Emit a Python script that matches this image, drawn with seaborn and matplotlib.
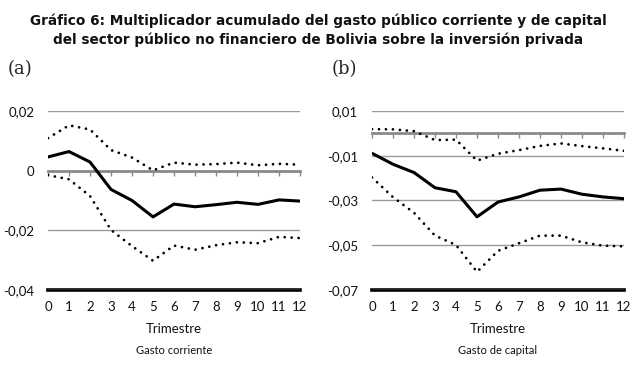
import numpy as np
import pandas as pd
import seaborn as sns
import matplotlib.pyplot as plt
from matplotlib.ticker import FuncFormatter

# === Datos ===
trimestres = list(range(13))

# (a) gasto corriente
corr_mult = [0.0046, 0.0064, 0.0029, -0.0063, -0.0100, -0.0155, -0.0112,
             -0.0121, -0.0114, -0.0106, -0.0113, -0.0098, -0.0102]
corr_sup = [0.0109, 0.0152, 0.0138, 0.0069, 0.0044, 0.0001, 0.0027,
            0.0020, 0.0022, 0.0027, 0.0018, 0.0023, 0.0020]
corr_inf = [-0.0015, -0.0029, -0.0085, -0.0199, -0.0253, -0.0302, -0.0251,
            -0.0265, -0.0250, -0.0240, -0.0243, -0.0222, -0.0226]

# (b) gasto de capital
cap_mult = [-0.0089, -0.0138, -0.0175, -0.0243, -0.0261, -0.0373, -0.0307,
            -0.0284, -0.0254, -0.0249, -0.0272, -0.0284, -0.0292]
cap_sup = [0.0019, 0.0018, 0.0010, -0.0030, -0.0028, -0.0122, -0.0091,
           -0.0075, -0.0056, -0.0045, -0.0057, -0.0067, -0.0078]
cap_inf = [-0.0197, -0.0285, -0.0355, -0.0457, -0.0499, -0.0619, -0.0525,
           -0.0491, -0.0457, -0.0457, -0.0487, -0.0502, -0.0505]

yticks_a = [-0.04, -0.02, 0, 0.02]
yticks_b = [-0.07, -0.05, -0.03, -0.01, 0.01]

sns.set_theme(style="white")
plt.rcParams['font.family'] = ['Lato', 'DejaVu Sans']

fig = plt.figure(figsize=(6.36, 3.65), dpi=100)
ax_a = fig.add_axes([0.0755, 0.2055, 0.3962, 0.4904])
ax_b = fig.add_axes([0.5849, 0.2055, 0.3962, 0.4904])

coma = FuncFormatter(lambda v, p: "0" if abs(v) < 1e-12 else f"{v:.2f}".replace(".", ","))
punteado = (0, (0.01, 2.5))


def panel(ax, mult, sup, inf, yticks, letra, subtitulo):
    df = pd.DataFrame({"t": trimestres, "mult": mult, "sup": sup, "inf": inf})
    for col in ["sup", "inf"]:
        sns.lineplot(data=df, x="t", y=col, ax=ax, color="black", lw=2.0,
                     linestyle=punteado, dash_capstyle="round")
    sns.lineplot(data=df, x="t", y="mult", ax=ax, color="black", lw=2.2)

    ax.set_xlim(trimestres[0], trimestres[-1])
    ax.set_ylim(yticks[0], yticks[-1])
    ax.set_yticks(yticks)
    ax.yaxis.set_major_formatter(coma)
    ax.yaxis.grid(True, color="#9a9a9a", lw=1.0)
    ax.set_axisbelow(True)
    for s in ["left", "right", "top"]:
        ax.spines[s].set_visible(False)

    # eje en cero, con marcas hacia abajo
    ax.spines["bottom"].set_position(("data", 0))
    ax.spines["bottom"].set_color("#8a8a8a")
    ax.spines["bottom"].set_linewidth(2.0)
    ax.spines["bottom"].set_zorder(1)
    ax.set_xticks(trimestres)
    ax.tick_params(axis="x", direction="out", length=3.5, width=1.0,
                   color="#8a8a8a", labelbottom=False, bottom=True)
    ax.tick_params(axis="y", length=0, pad=10, labelsize=9.5, labelcolor="#111111")

    # linea base negra con etiquetas de trimestre
    sec = ax.secondary_xaxis("bottom")
    sec.set_xticks(trimestres)
    sec.spines["bottom"].set_color("black")
    sec.spines["bottom"].set_linewidth(2.6)
    sec.tick_params(length=0, pad=8, labelsize=9.5, labelcolor="#111111")
    sec.set_xlabel("Trimestre", fontsize=9.5, labelpad=7, color="#111111")

    ax.set_xlabel("")
    ax.set_ylabel("")
    ax.text(-0.16, 1.235, letra, transform=ax.transAxes, fontsize=13,
            family="DejaVu Serif", va="center", ha="left")
    ax.text(0.5, -0.34, subtitulo, transform=ax.transAxes, fontsize=8,
            ha="center", va="center", color="#111111")


panel(ax_a, corr_mult, corr_sup, corr_inf, yticks_a, "(a)", "Gasto corriente")
panel(ax_b, cap_mult, cap_sup, cap_inf, yticks_b, "(b)", "Gasto de capital")

fig.text(0.5, 0.918, "Gráfico 6: Multiplicador acumulado del gasto público corriente y de capital\n"
         "del sector público no financiero de Bolivia sobre la inversión privada",
         ha="center", va="center", fontsize=9.8, fontweight="semibold",
         family=["DejaVu Sans"], linespacing=1.4, color="#111111")

fig.savefig("out.png", dpi=100)
